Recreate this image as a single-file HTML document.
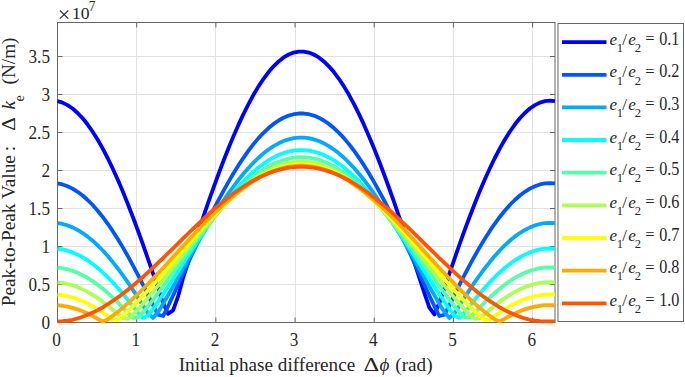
<!DOCTYPE html><html><head><meta charset="utf-8"><style>html,body{margin:0;padding:0;background:#fff;}svg{display:block;}text{font-family:"Liberation Serif",serif;fill:#262626;}.i{font-style:italic;}</style></head><body>
<svg width="685" height="377" viewBox="0 0 685 377">
<rect x="0" y="0" width="685" height="377" fill="#fff"/>
<path d="M136.50 22.5V322.5M215.50 22.5V322.5M295.50 22.5V322.5M374.50 22.5V322.5M453.50 22.5V322.5M532.50 22.5V322.5M57.5 284.50H555.0M57.5 246.50H555.0M57.5 208.50H555.0M57.5 170.50H555.0M57.5 132.50H555.0M57.5 94.50H555.0M57.5 56.50H555.0" stroke="#e2e2e2" stroke-width="1" fill="none"/>
<path d="M136.68 322.5v-5M136.68 22.5v5M215.86 322.5v-5M215.86 22.5v5M295.04 322.5v-5M295.04 22.5v5M374.22 322.5v-5M374.22 22.5v5M453.40 322.5v-5M453.40 22.5v5M532.58 322.5v-5M532.58 22.5v5M57.5 284.50h5M555.0 284.50h-5M57.5 246.50h5M555.0 246.50h-5M57.5 208.50h5M555.0 208.50h-5M57.5 170.50h5M555.0 170.50h-5M57.5 132.50h5M555.0 132.50h-5M57.5 94.50h5M555.0 94.50h-5M57.5 56.50h5M555.0 56.50h-5" stroke="#666666" stroke-width="1" fill="none"/>
<rect x="57.5" y="22.5" width="497.5" height="300.0" fill="none" stroke="#666666" stroke-width="1"/>
<clipPath id="c"><rect x="57.0" y="22.5" width="498.5" height="303.0"/></clipPath>
<g clip-path="url(#c)" fill="none" stroke-width="3.8" stroke-linejoin="round" stroke-linecap="butt">
<polyline points="57.50,101.16 62.53,102.64 67.55,105.11 72.58,108.55 77.60,112.95 82.63,118.30 87.65,124.56 92.68,131.72 97.70,139.74 102.73,148.60 107.75,158.25 112.78,168.66 117.80,179.79 122.83,191.58 127.85,204.00 132.88,216.98 137.90,230.48 142.93,244.43 147.95,258.76 152.98,273.40 158.01,288.20 163.03,302.83 168.06,313.76 173.08,310.34 178.11,296.28 183.13,277.69 188.16,262.33 193.18,247.03 198.21,231.90 203.23,217.02 208.26,202.45 213.28,188.26 218.31,174.50 223.33,161.23 228.36,148.51 233.38,136.39 238.41,124.92 243.43,114.14 248.46,104.10 253.48,94.83 258.51,86.39 263.54,78.79 268.56,72.08 273.59,66.27 278.61,61.39 283.64,57.47 288.66,54.51 293.69,52.53 298.71,51.54 303.74,51.54 308.76,52.53 313.79,54.51 318.81,57.47 323.84,61.39 328.86,66.27 333.89,72.08 338.91,78.79 343.94,86.39 348.96,94.83 353.99,104.10 359.02,114.14 364.04,124.92 369.07,136.39 374.09,148.51 379.12,161.23 384.14,174.50 389.17,188.26 394.19,202.45 399.22,217.02 404.24,231.90 409.27,247.03 414.29,262.33 419.32,277.69 424.34,292.96 429.37,307.52 434.39,314.44 439.42,302.83 444.44,288.20 449.47,273.40 454.49,258.76 459.52,244.43 464.55,230.48 469.57,216.98 474.60,204.00 479.62,191.58 484.65,179.79 489.67,168.66 494.70,158.25 499.72,148.60 504.75,139.74 509.77,131.72 514.80,124.56 519.82,118.30 524.85,112.95 529.87,108.55 534.90,105.11 539.92,102.64 544.95,101.16 549.97,100.66 555.00,101.16" stroke="#0000ff"/>
<polyline points="57.50,183.42 62.53,184.47 67.55,186.22 72.58,188.65 77.60,191.77 82.63,195.54 87.65,199.97 92.68,205.03 97.70,210.71 102.73,216.97 107.75,223.80 112.78,231.16 117.80,239.02 122.83,247.36 127.85,256.14 132.88,265.32 137.90,274.85 142.93,284.70 147.95,294.79 152.98,305.01 158.01,314.78 163.03,316.03 168.06,306.31 173.08,295.56 178.11,284.62 183.13,273.64 188.16,262.70 193.18,251.84 198.21,241.12 203.23,230.58 208.26,220.26 213.28,210.22 218.31,200.48 223.33,191.10 228.36,182.10 233.38,173.52 238.41,165.41 243.43,157.78 248.46,150.68 253.48,144.13 258.51,138.15 263.54,132.78 268.56,128.03 273.59,123.92 278.61,120.48 283.64,117.70 288.66,115.61 293.69,114.21 298.71,113.51 303.74,113.51 308.76,114.21 313.79,115.61 318.81,117.70 323.84,120.48 328.86,123.92 333.89,128.03 338.91,132.78 343.94,138.15 348.96,144.13 353.99,150.68 359.02,157.78 364.04,165.41 369.07,173.52 374.09,182.10 379.12,191.10 384.14,200.48 389.17,210.22 394.19,220.26 399.22,230.58 404.24,241.12 409.27,251.84 414.29,262.70 419.32,273.64 424.34,284.62 429.37,295.56 434.39,306.31 439.42,316.03 444.44,314.78 449.47,305.01 454.49,294.79 459.52,284.70 464.55,274.85 469.57,265.32 474.60,256.14 479.62,247.36 484.65,239.02 489.67,231.16 494.70,223.80 499.72,216.97 504.75,210.71 509.77,205.03 514.80,199.97 519.82,195.54 524.85,191.77 529.87,188.65 534.90,186.22 539.92,184.47 544.95,183.42 549.97,183.07 555.00,183.42" stroke="#0055ff"/>
<polyline points="57.50,223.12 62.53,223.98 67.55,225.41 72.58,227.39 77.60,229.93 82.63,233.01 87.65,236.63 92.68,240.76 97.70,245.39 102.73,250.49 107.75,256.06 112.78,262.06 117.80,268.47 122.83,275.27 127.85,282.41 132.88,289.86 137.90,297.58 142.93,305.46 147.95,313.21 152.98,317.92 158.01,312.29 163.03,303.96 168.06,295.21 173.08,286.31 178.11,277.35 183.13,268.37 188.16,259.43 193.18,250.56 198.21,241.80 203.23,233.20 208.26,224.78 213.28,216.58 218.31,208.63 223.33,200.97 228.36,193.62 233.38,186.62 238.41,179.99 243.43,173.77 248.46,167.97 253.48,162.62 258.51,157.74 263.54,153.36 268.56,149.48 273.59,146.13 278.61,143.31 283.64,141.04 288.66,139.34 293.69,138.19 298.71,137.62 303.74,137.62 308.76,138.19 313.79,139.34 318.81,141.04 323.84,143.31 328.86,146.13 333.89,149.48 338.91,153.36 343.94,157.74 348.96,162.62 353.99,167.97 359.02,173.77 364.04,179.99 369.07,186.62 374.09,193.62 379.12,200.97 384.14,208.63 389.17,216.58 394.19,224.78 399.22,233.20 404.24,241.80 409.27,250.56 414.29,259.43 419.32,268.37 424.34,277.35 429.37,286.31 434.39,295.21 439.42,303.96 444.44,312.29 449.47,317.92 454.49,313.21 459.52,305.46 464.55,297.58 469.57,289.86 474.60,282.41 479.62,275.27 484.65,268.47 489.67,262.06 494.70,256.06 499.72,250.49 504.75,245.39 509.77,240.76 514.80,236.63 519.82,233.01 524.85,229.93 529.87,227.39 534.90,225.41 539.92,223.98 544.95,223.12 549.97,222.84 555.00,223.12" stroke="#00aaff"/>
<polyline points="57.50,248.73 62.53,249.47 67.55,250.70 72.58,252.42 77.60,254.62 82.63,257.29 87.65,260.41 92.68,263.99 97.70,267.99 102.73,272.41 107.75,277.22 112.78,282.41 117.80,287.94 122.83,293.80 127.85,299.93 132.88,306.28 137.90,312.67 142.93,317.91 147.95,315.74 152.98,309.13 158.01,301.84 163.03,294.31 168.06,286.64 173.08,278.89 178.11,271.11 183.13,263.32 188.16,255.57 193.18,247.89 198.21,240.30 203.23,232.85 208.26,225.56 213.28,218.45 218.31,211.57 223.33,204.93 228.36,198.57 233.38,192.50 238.41,186.77 243.43,181.38 248.46,176.35 253.48,171.72 258.51,167.50 263.54,163.70 268.56,160.34 273.59,157.44 278.61,155.00 283.64,153.04 288.66,151.56 293.69,150.57 298.71,150.07 303.74,150.07 308.76,150.57 313.79,151.56 318.81,153.04 323.84,155.00 328.86,157.44 333.89,160.34 338.91,163.70 343.94,167.50 348.96,171.72 353.99,176.35 359.02,181.38 364.04,186.77 369.07,192.50 374.09,198.57 379.12,204.93 384.14,211.57 389.17,218.45 394.19,225.56 399.22,232.85 404.24,240.30 409.27,247.89 414.29,255.57 419.32,263.32 424.34,271.11 429.37,278.89 434.39,286.64 439.42,294.31 444.44,301.84 449.47,309.13 454.49,315.74 459.52,317.91 464.55,312.67 469.57,306.28 474.60,299.93 479.62,293.80 484.65,287.94 489.67,282.41 494.70,277.22 499.72,272.41 504.75,267.99 509.77,263.99 514.80,260.41 519.82,257.29 524.85,254.62 529.87,252.42 534.90,250.70 539.92,249.47 544.95,248.73 549.97,248.48 555.00,248.73" stroke="#00ffff"/>
<polyline points="57.50,267.51 62.53,268.17 67.55,269.27 72.58,270.81 77.60,272.77 82.63,275.16 87.65,277.95 92.68,281.14 97.70,284.71 102.73,288.66 107.75,292.95 112.78,297.56 117.80,302.47 122.83,307.62 127.85,312.90 132.88,317.66 137.90,317.62 142.93,312.44 147.95,306.28 152.98,299.81 158.01,293.14 163.03,286.35 168.06,279.46 173.08,272.51 178.11,265.54 183.13,258.57 188.16,251.64 193.18,244.76 198.21,237.97 203.23,231.31 208.26,224.78 213.28,218.43 218.31,212.27 223.33,206.33 228.36,200.64 233.38,195.22 238.41,190.08 243.43,185.26 248.46,180.77 253.48,176.62 258.51,172.85 263.54,169.45 268.56,166.44 273.59,163.85 278.61,161.67 283.64,159.91 288.66,158.59 293.69,157.70 298.71,157.26 303.74,157.26 308.76,157.70 313.79,158.59 318.81,159.91 323.84,161.67 328.86,163.85 333.89,166.44 338.91,169.45 343.94,172.85 348.96,176.62 353.99,180.77 359.02,185.26 364.04,190.08 369.07,195.22 374.09,200.64 379.12,206.33 384.14,212.27 389.17,218.43 394.19,224.78 399.22,231.31 404.24,237.97 409.27,244.76 414.29,251.64 419.32,258.57 424.34,265.54 429.37,272.51 434.39,279.46 439.42,286.35 444.44,293.14 449.47,299.81 454.49,306.28 459.52,312.44 464.55,317.62 469.57,317.66 474.60,312.90 479.62,307.62 484.65,302.47 489.67,297.56 494.70,292.95 499.72,288.66 504.75,284.71 509.77,281.14 514.80,277.95 519.82,275.16 524.85,272.77 529.87,270.81 534.90,269.27 539.92,268.17 544.95,267.51 549.97,267.29 555.00,267.51" stroke="#55ffaa"/>
<polyline points="57.50,282.36 62.53,282.96 67.55,283.97 72.58,285.37 77.60,287.16 82.63,289.34 87.65,291.88 92.68,294.79 97.70,298.05 102.73,301.63 107.75,305.53 112.78,309.69 117.80,314.04 122.83,318.18 127.85,318.86 132.88,314.57 137.90,309.30 142.93,303.69 147.95,297.86 152.98,291.87 158.01,285.74 163.03,279.51 168.06,273.21 173.08,266.86 178.11,260.49 183.13,254.12 188.16,247.78 193.18,241.50 198.21,235.31 203.23,229.22 208.26,223.26 213.28,217.46 218.31,211.83 223.33,206.41 228.36,201.22 233.38,196.26 238.41,191.58 243.43,187.17 248.46,183.07 253.48,179.29 258.51,175.84 263.54,172.74 268.56,170.00 273.59,167.63 278.61,165.63 283.64,164.03 288.66,162.82 293.69,162.02 298.71,161.61 303.74,161.61 308.76,162.02 313.79,162.82 318.81,164.03 323.84,165.63 328.86,167.63 333.89,170.00 338.91,172.74 343.94,175.84 348.96,179.29 353.99,183.07 359.02,187.17 364.04,191.58 369.07,196.26 374.09,201.22 379.12,206.41 384.14,211.83 389.17,217.46 394.19,223.26 399.22,229.22 404.24,235.31 409.27,241.50 414.29,247.78 419.32,254.12 424.34,260.49 429.37,266.86 434.39,273.21 439.42,279.51 444.44,285.74 449.47,291.87 454.49,297.86 459.52,303.69 464.55,309.30 469.57,314.57 474.60,318.86 479.62,318.18 484.65,314.04 489.67,309.69 494.70,305.53 499.72,301.63 504.75,298.05 509.77,294.79 514.80,291.88 519.82,289.34 524.85,287.16 529.87,285.37 534.90,283.97 539.92,282.96 544.95,282.36 549.97,282.16 555.00,282.36" stroke="#aaff55"/>
<polyline points="57.50,294.69 62.53,295.25 67.55,296.18 72.58,297.48 77.60,299.14 82.63,301.15 87.65,303.51 92.68,306.20 97.70,309.21 102.73,312.52 107.75,316.06 112.78,319.59 117.80,319.74 122.83,315.76 127.85,311.17 132.88,306.30 137.90,301.21 142.93,295.93 147.95,290.50 152.98,284.92 158.01,279.23 163.03,273.46 168.06,267.61 173.08,261.72 178.11,255.82 183.13,249.92 188.16,244.05 193.18,238.23 198.21,232.49 203.23,226.85 208.26,221.33 213.28,215.96 218.31,210.75 223.33,205.73 228.36,200.92 233.38,196.34 238.41,192.00 243.43,187.92 248.46,184.12 253.48,180.62 258.51,177.43 263.54,174.55 268.56,172.01 273.59,169.82 278.61,167.98 283.64,166.49 288.66,165.37 293.69,164.63 298.71,164.25 303.74,164.25 308.76,164.63 313.79,165.37 318.81,166.49 323.84,167.98 328.86,169.82 333.89,172.01 338.91,174.55 343.94,177.43 348.96,180.62 353.99,184.12 359.02,187.92 364.04,192.00 369.07,196.34 374.09,200.92 379.12,205.73 384.14,210.75 389.17,215.96 394.19,221.33 399.22,226.85 404.24,232.49 409.27,238.23 414.29,244.05 419.32,249.92 424.34,255.82 429.37,261.72 434.39,267.61 439.42,273.46 444.44,279.23 449.47,284.92 454.49,290.50 459.52,295.93 464.55,301.21 469.57,306.30 474.60,311.17 479.62,315.76 484.65,319.74 489.67,319.59 494.70,316.06 499.72,312.52 504.75,309.21 509.77,306.20 514.80,303.51 519.82,301.15 524.85,299.14 529.87,297.48 534.90,296.18 539.92,295.25 544.95,294.69 549.97,294.50 555.00,294.69" stroke="#ffff00"/>
<polyline points="57.50,305.23 62.53,305.76 67.55,306.63 72.58,307.84 77.60,309.40 82.63,311.28 87.65,313.49 92.68,316.00 97.70,318.79 102.73,321.48 107.75,319.41 112.78,315.80 117.80,311.88 122.83,307.71 127.85,303.32 132.88,298.73 137.90,293.94 142.93,288.99 147.95,283.90 152.98,278.67 158.01,273.35 163.03,267.94 168.06,262.47 173.08,256.96 178.11,251.44 183.13,245.92 188.16,240.42 193.18,234.98 198.21,229.61 203.23,224.33 208.26,219.17 213.28,214.14 218.31,209.27 223.33,204.58 228.36,200.08 233.38,195.79 238.41,191.73 243.43,187.91 248.46,184.36 253.48,181.08 258.51,178.10 263.54,175.41 268.56,173.03 273.59,170.98 278.61,169.25 283.64,167.87 288.66,166.82 293.69,166.12 298.71,165.77 303.74,165.77 308.76,166.12 313.79,166.82 318.81,167.87 323.84,169.25 328.86,170.98 333.89,173.03 338.91,175.41 343.94,178.10 348.96,181.08 353.99,184.36 359.02,187.91 364.04,191.73 369.07,195.79 374.09,200.08 379.12,204.58 384.14,209.27 389.17,214.14 394.19,219.17 399.22,224.33 404.24,229.61 409.27,234.98 414.29,240.42 419.32,245.92 424.34,251.44 429.37,256.96 434.39,262.47 439.42,267.94 444.44,273.35 449.47,278.67 454.49,283.90 459.52,288.99 464.55,293.94 469.57,298.73 474.60,303.32 479.62,307.71 484.65,311.88 489.67,315.80 494.70,319.41 499.72,321.48 504.75,318.79 509.77,316.00 514.80,313.49 519.82,311.28 524.85,309.40 529.87,307.84 534.90,306.63 539.92,305.76 544.95,305.23 549.97,305.06 555.00,305.23" stroke="#ffaa00"/>
<polyline points="57.50,321.35 62.53,321.20 67.55,320.69 72.58,319.76 77.60,318.45 82.63,316.80 87.65,314.85 92.68,312.61 97.70,310.08 102.73,307.29 107.75,304.24 112.78,300.95 117.80,297.43 122.83,293.70 127.85,289.77 132.88,285.65 137.90,281.37 142.93,276.95 147.95,272.39 152.98,267.72 158.01,262.95 163.03,258.12 168.06,253.22 173.08,248.30 178.11,243.36 183.13,238.42 188.16,233.51 193.18,228.64 198.21,223.84 203.23,219.12 208.26,214.50 213.28,210.00 218.31,205.64 223.33,201.44 228.36,197.42 233.38,193.58 238.41,189.95 243.43,186.54 248.46,183.36 253.48,180.43 258.51,177.76 263.54,175.36 268.56,173.23 273.59,171.39 278.61,169.85 283.64,168.61 288.66,167.67 293.69,167.05 298.71,166.74 303.74,166.74 308.76,167.05 313.79,167.67 318.81,168.61 323.84,169.85 328.86,171.39 333.89,173.23 338.91,175.36 343.94,177.76 348.96,180.43 353.99,183.36 359.02,186.54 364.04,189.95 369.07,193.58 374.09,197.42 379.12,201.44 384.14,205.64 389.17,210.00 394.19,214.50 399.22,219.12 404.24,223.84 409.27,228.64 414.29,233.51 419.32,238.42 424.34,243.36 429.37,248.30 434.39,253.22 439.42,258.12 444.44,262.95 449.47,267.72 454.49,272.39 459.52,276.95 464.55,281.37 469.57,285.65 474.60,289.77 479.62,293.70 484.65,297.43 489.67,300.95 494.70,304.24 499.72,307.29 504.75,310.08 509.77,312.61 514.80,314.85 519.82,316.80 524.85,318.45 529.87,319.76 534.90,320.69 539.92,321.20 544.95,321.35 549.97,321.36 555.00,321.35" stroke="#ff5500"/>
</g>
<text transform="translate(56.6,345.7) scale(0.915,1)" font-size="18.8" text-anchor="middle">0</text>
<text transform="translate(135.8,345.7) scale(0.915,1)" font-size="18.8" text-anchor="middle">1</text>
<text transform="translate(215.0,345.7) scale(0.915,1)" font-size="18.8" text-anchor="middle">2</text>
<text transform="translate(294.1,345.7) scale(0.915,1)" font-size="18.8" text-anchor="middle">3</text>
<text transform="translate(373.3,345.7) scale(0.915,1)" font-size="18.8" text-anchor="middle">4</text>
<text transform="translate(452.5,345.7) scale(0.915,1)" font-size="18.8" text-anchor="middle">5</text>
<text transform="translate(531.7,345.7) scale(0.915,1)" font-size="18.8" text-anchor="middle">6</text>
<text transform="translate(50.0,328.9) scale(0.915,1)" font-size="18.8" text-anchor="end">0</text>
<text transform="translate(50.0,290.9) scale(0.915,1)" font-size="18.8" text-anchor="end">0.5</text>
<text transform="translate(50.0,252.9) scale(0.915,1)" font-size="18.8" text-anchor="end">1</text>
<text transform="translate(50.0,214.9) scale(0.915,1)" font-size="18.8" text-anchor="end">1.5</text>
<text transform="translate(50.0,176.9) scale(0.915,1)" font-size="18.8" text-anchor="end">2</text>
<text transform="translate(50.0,138.9) scale(0.915,1)" font-size="18.8" text-anchor="end">2.5</text>
<text transform="translate(50.0,100.9) scale(0.915,1)" font-size="18.8" text-anchor="end">3</text>
<text transform="translate(50.0,62.9) scale(0.915,1)" font-size="18.8" text-anchor="end">3.5</text>
<path d="M59.9 10.5L68.3 18.6M68.3 10.5L59.9 18.6" stroke="#262626" stroke-width="1.05" fill="none"/>
<text x="71.9" y="18.8" font-size="17.6">10</text>
<text transform="translate(88.7,10.9) scale(0.915,1)" font-size="14.6">7</text>
<text x="178.7" y="371.4" font-size="19.2">Initial phase difference</text>
<text transform="translate(363.6,371.4) scale(1.27,1)" font-size="19.2">Δ</text>
<text x="379.5" y="371.4" font-size="19.2" class="i">ϕ</text>
<text x="395.3" y="371.4" font-size="19.2">(rad)</text>
<text transform="translate(15.2,306.3) rotate(-90)" font-size="19.3">Peak-to-Peak Value</text>
<text transform="translate(15.2,151.3) rotate(-90)" font-size="19.2">:</text>
<text transform="translate(15.2,130.8) rotate(-90) scale(1.1,1)" font-size="19.2">Δ</text>
<text transform="translate(15.2,109.6) rotate(-90)" font-size="19.2" class="i">k</text>
<text transform="translate(24.0,101.6) rotate(-90)" font-size="14.3">e</text>
<text transform="translate(15.2,84.4) rotate(-90)" font-size="19.2">(N/m)</text>
<rect x="558.0" y="23.5" width="125.5" height="298.0" fill="#fff" stroke="#666666" stroke-width="1"/>
<path d="M562 42.1H606.5" stroke="#0000ff" stroke-width="3.8" fill="none"/>
<text x="609.5" y="44.6" font-size="17" class="i">e</text>
<text x="616.8" y="51.8" font-size="12.6">1</text>
<text x="622.3" y="44.6" font-size="17">/</text>
<text x="628.2" y="44.6" font-size="17" class="i">e</text>
<text x="634.8" y="51.8" font-size="12.6">2</text>
<text x="645.3" y="44.0" font-size="16.5">=</text>
<text transform="translate(659.2,44.6) scale(0.9,1)" font-size="18">0.1</text>
<path d="M562 74.8H606.5" stroke="#0055ff" stroke-width="3.8" fill="none"/>
<text x="609.5" y="77.2" font-size="17" class="i">e</text>
<text x="616.8" y="84.5" font-size="12.6">1</text>
<text x="622.3" y="77.2" font-size="17">/</text>
<text x="628.2" y="77.2" font-size="17" class="i">e</text>
<text x="634.8" y="84.5" font-size="12.6">2</text>
<text x="645.3" y="76.7" font-size="16.5">=</text>
<text transform="translate(659.2,77.2) scale(0.9,1)" font-size="18">0.2</text>
<path d="M562 107.4H606.5" stroke="#00aaff" stroke-width="3.8" fill="none"/>
<text x="609.5" y="109.9" font-size="17" class="i">e</text>
<text x="616.8" y="117.1" font-size="12.6">1</text>
<text x="622.3" y="109.9" font-size="17">/</text>
<text x="628.2" y="109.9" font-size="17" class="i">e</text>
<text x="634.8" y="117.1" font-size="12.6">2</text>
<text x="645.3" y="109.3" font-size="16.5">=</text>
<text transform="translate(659.2,109.9) scale(0.9,1)" font-size="18">0.3</text>
<path d="M562 140.0H606.5" stroke="#00ffff" stroke-width="3.8" fill="none"/>
<text x="609.5" y="142.5" font-size="17" class="i">e</text>
<text x="616.8" y="149.7" font-size="12.6">1</text>
<text x="622.3" y="142.5" font-size="17">/</text>
<text x="628.2" y="142.5" font-size="17" class="i">e</text>
<text x="634.8" y="149.7" font-size="12.6">2</text>
<text x="645.3" y="141.9" font-size="16.5">=</text>
<text transform="translate(659.2,142.5) scale(0.9,1)" font-size="18">0.4</text>
<path d="M562 172.7H606.5" stroke="#55ffaa" stroke-width="3.8" fill="none"/>
<text x="609.5" y="175.2" font-size="17" class="i">e</text>
<text x="616.8" y="182.4" font-size="12.6">1</text>
<text x="622.3" y="175.2" font-size="17">/</text>
<text x="628.2" y="175.2" font-size="17" class="i">e</text>
<text x="634.8" y="182.4" font-size="12.6">2</text>
<text x="645.3" y="174.6" font-size="16.5">=</text>
<text transform="translate(659.2,175.2) scale(0.9,1)" font-size="18">0.5</text>
<path d="M562 205.3H606.5" stroke="#aaff55" stroke-width="3.8" fill="none"/>
<text x="609.5" y="207.8" font-size="17" class="i">e</text>
<text x="616.8" y="215.0" font-size="12.6">1</text>
<text x="622.3" y="207.8" font-size="17">/</text>
<text x="628.2" y="207.8" font-size="17" class="i">e</text>
<text x="634.8" y="215.0" font-size="12.6">2</text>
<text x="645.3" y="207.2" font-size="16.5">=</text>
<text transform="translate(659.2,207.8) scale(0.9,1)" font-size="18">0.6</text>
<path d="M562 238.0H606.5" stroke="#ffff00" stroke-width="3.8" fill="none"/>
<text x="609.5" y="240.5" font-size="17" class="i">e</text>
<text x="616.8" y="247.7" font-size="12.6">1</text>
<text x="622.3" y="240.5" font-size="17">/</text>
<text x="628.2" y="240.5" font-size="17" class="i">e</text>
<text x="634.8" y="247.7" font-size="12.6">2</text>
<text x="645.3" y="239.9" font-size="16.5">=</text>
<text transform="translate(659.2,240.5) scale(0.9,1)" font-size="18">0.7</text>
<path d="M562 270.6H606.5" stroke="#ffaa00" stroke-width="3.8" fill="none"/>
<text x="609.5" y="273.1" font-size="17" class="i">e</text>
<text x="616.8" y="280.3" font-size="12.6">1</text>
<text x="622.3" y="273.1" font-size="17">/</text>
<text x="628.2" y="273.1" font-size="17" class="i">e</text>
<text x="634.8" y="280.3" font-size="12.6">2</text>
<text x="645.3" y="272.5" font-size="16.5">=</text>
<text transform="translate(659.2,273.1) scale(0.9,1)" font-size="18">0.8</text>
<path d="M562 303.3H606.5" stroke="#ff5500" stroke-width="3.8" fill="none"/>
<text x="609.5" y="305.8" font-size="17" class="i">e</text>
<text x="616.8" y="313.0" font-size="12.6">1</text>
<text x="622.3" y="305.8" font-size="17">/</text>
<text x="628.2" y="305.8" font-size="17" class="i">e</text>
<text x="634.8" y="313.0" font-size="12.6">2</text>
<text x="645.3" y="305.2" font-size="16.5">=</text>
<text transform="translate(659.2,305.8) scale(0.9,1)" font-size="18">1.0</text>
</svg></body></html>
